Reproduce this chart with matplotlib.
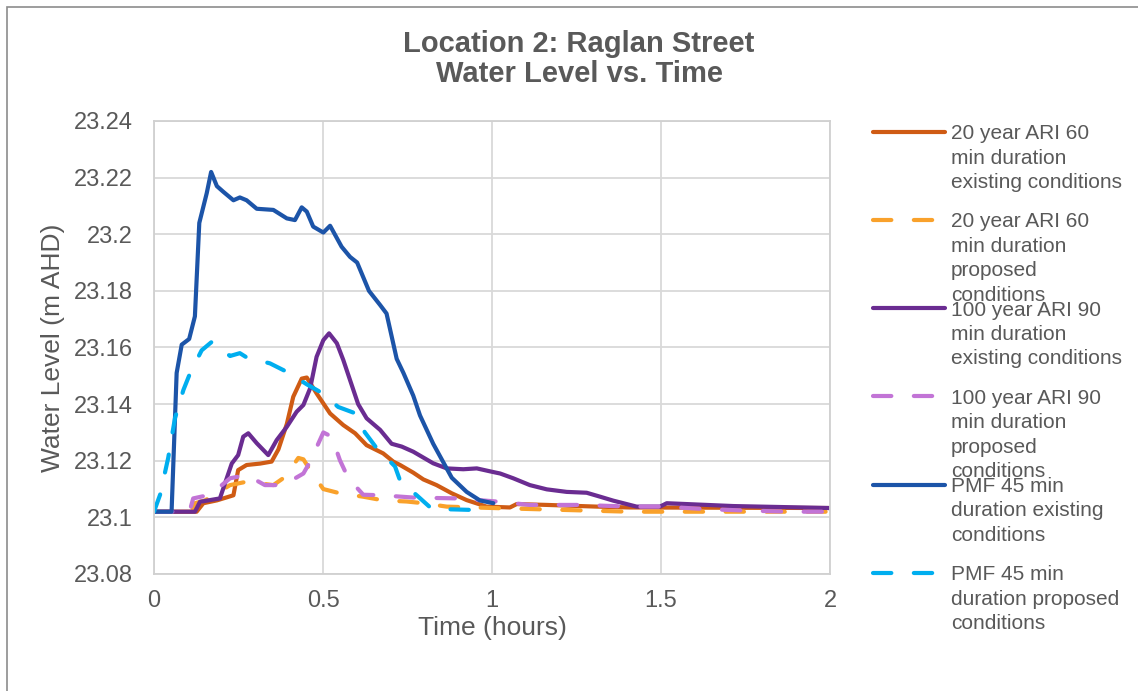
import matplotlib
matplotlib.use("Agg")
import matplotlib.pyplot as plt
from matplotlib.lines import Line2D
from matplotlib.patches import Rectangle
from matplotlib.ticker import FuncFormatter, MultipleLocator

plt.rcParams['font.family'] = ['Liberation Sans', 'DejaVu Sans']

# 20 year ARI 60 min - existing
ari20_ex_t = [0, 0.126, 0.146, 0.186, 0.235, 0.249, 0.274, 0.314, 0.348, 0.368, 0.393,
              0.412, 0.437, 0.452, 0.481, 0.521, 0.560, 0.595, 0.629, 0.678, 0.708,
              0.728, 0.767, 0.797, 0.836, 0.881, 0.925, 0.984, 1.053, 1.073, 1.162,
              1.310, 1.408, 2.0]
ari20_ex_h = [23.102, 23.102, 23.105, 23.106, 23.1078, 23.1167, 23.1185, 23.119, 23.1197,
              23.124, 23.133, 23.1426, 23.149, 23.1494, 23.1438, 23.1367, 23.1326,
              23.1297, 23.1255, 23.1226, 23.1197, 23.1185, 23.1158, 23.1134, 23.1114,
              23.1085, 23.1061, 23.1038, 23.1035, 23.1047, 23.1044, 23.1038, 23.1035,
              23.1033]

# 20 year ARI 60 min - proposed
ari20_pr_t = [0, 0.11, 0.121, 0.151, 0.225, 0.274, 0.314, 0.353, 0.388, 0.427, 0.442,
              0.471, 0.501, 0.550, 0.619, 0.678, 0.748, 0.797, 0.866, 1.004, 1.408, 2.0]
ari20_pr_h = [23.102, 23.102, 23.105, 23.106, 23.1114, 23.1126, 23.112, 23.1114, 23.1143,
              23.121, 23.1205, 23.115, 23.110, 23.1085, 23.1073, 23.106, 23.1056,
              23.105, 23.1038, 23.1033, 23.102, 23.102]

# 100 year ARI 90 min - existing
ari100_ex_t = [0, 0.121, 0.136, 0.195, 0.210, 0.230, 0.249, 0.264, 0.279, 0.304, 0.338,
               0.363, 0.393, 0.422, 0.442, 0.462, 0.481, 0.501, 0.518, 0.541, 0.560,
               0.580, 0.604, 0.629, 0.669, 0.703, 0.733, 0.767, 0.826, 0.866, 0.915,
               0.955, 1.004, 1.024, 1.063, 1.112, 1.162, 1.221, 1.280, 1.320, 1.359,
               1.428, 1.497, 1.517, 1.714, 2.0]
ari100_ex_h = [23.102, 23.102, 23.1055, 23.1067, 23.112, 23.119, 23.122, 23.1285, 23.1297,
               23.1262, 23.122, 23.1273, 23.132, 23.1373, 23.1397, 23.1456, 23.1567,
               23.1626, 23.165, 23.1615, 23.1556, 23.1485, 23.140, 23.135, 23.1309,
               23.126, 23.125, 23.1232, 23.1191, 23.1173, 23.117, 23.1173, 23.116,
               23.1155, 23.1138, 23.1114, 23.1099, 23.109, 23.1087, 23.1073, 23.1059,
               23.1038, 23.1038, 23.105, 23.104, 23.1033]

# 100 year ARI 90 min - proposed
ari100_pr_t = [0, 0.105, 0.116, 0.166, 0.225, 0.274, 0.328, 0.383, 0.442, 0.462, 0.501,
               0.526, 0.550, 0.575, 0.619, 0.674, 0.767, 0.896, 1.014, 1.112, 1.260,
               1.408, 1.506, 1.635, 1.754, 1.882, 2.0]
ari100_pr_h = [23.102, 23.102, 23.1067, 23.108, 23.1138, 23.115, 23.1114, 23.1114,
               23.1155, 23.1197, 23.130, 23.1285, 23.1202, 23.1138, 23.108, 23.1078,
               23.107, 23.1067, 23.1056, 23.1044, 23.1044, 23.1038, 23.1038, 23.1029,
               23.1024, 23.102, 23.102]

# PMF 45 min - existing
pmf_ex_t = [0, 0.052, 0.067, 0.082, 0.104, 0.121, 0.134, 0.156, 0.169, 0.186, 0.205,
            0.235, 0.254, 0.274, 0.304, 0.353, 0.393, 0.417, 0.437, 0.452, 0.471,
            0.501, 0.521, 0.555, 0.580, 0.601, 0.636, 0.669, 0.688, 0.718, 0.738,
            0.767, 0.787, 0.826, 0.881, 0.925, 0.964, 1.004]
pmf_ex_h = [23.102, 23.102, 23.151, 23.161, 23.163, 23.171, 23.204, 23.2145, 23.222,
            23.217, 23.215, 23.212, 23.213, 23.212, 23.209, 23.2086, 23.2056, 23.205,
            23.2095, 23.208, 23.2027, 23.2006, 23.203, 23.1956, 23.192, 23.190, 23.180,
            23.175, 23.172, 23.156, 23.151, 23.143, 23.136, 23.126, 23.114, 23.109,
            23.106, 23.105]

# PMF 45 min - proposed
pmf_pr_t = [0, 0.018, 0.042, 0.062, 0.087, 0.107, 0.141, 0.171, 0.225, 0.254, 0.274,
            0.343, 0.393, 0.452, 0.496, 0.545, 0.590, 0.624, 0.659, 0.713, 0.728,
            0.782, 0.822, 0.891, 0.950]
pmf_pr_h = [23.102, 23.108, 23.121, 23.135, 23.145, 23.151, 23.159, 23.162, 23.157,
            23.158, 23.1565, 23.1544, 23.1514, 23.147, 23.144, 23.139, 23.137, 23.130,
            23.1244, 23.118, 23.113, 23.1073, 23.103, 23.1028, 23.1026]

labels = [
    ["20 year ARI 60", "min duration", "existing conditions"],
    ["20 year ARI 60", "min duration", "proposed", "conditions"],
    ["100 year ARI 90", "min duration", "existing conditions"],
    ["100 year ARI 90", "min duration", "proposed", "conditions"],
    ["PMF 45 min", "duration existing", "conditions"],
    ["PMF 45 min", "duration proposed", "conditions"],
]
colors = ['#CF5B14', '#F9A12B', '#6A2C91', '#C274D6', '#1C54A8', '#00AEEF']
dashed = [False, True, False, True, False, True]
series = [(ari20_ex_t, ari20_ex_h), (ari20_pr_t, ari20_pr_h),
          (ari100_ex_t, ari100_ex_h), (ari100_pr_t, ari100_pr_h),
          (pmf_ex_t, pmf_ex_h), (pmf_pr_t, pmf_pr_h)]

W, H = 1138, 691
fig = plt.figure(figsize=(W / 100, H / 100), dpi=100)
ax = fig.add_axes([154 / W, 1 - 574 / H, (830 - 154) / W, (574 - 121) / H])

text_col = '#595959'
grid_col = '#D9D9D9'
lw = 3.0

for (t, h), c, d in zip(series, colors, dashed):
    line, = ax.plot(t, h, color=c, lw=lw, solid_capstyle='round',
                    dash_capstyle='round', solid_joinstyle='round')
    if d:
        line.set_dashes((4.4, 5.4))

ax.set_xlim(0, 2)
ax.set_ylim(23.08, 23.24)
ax.xaxis.set_major_locator(MultipleLocator(0.5))
ax.yaxis.set_major_locator(MultipleLocator(0.02))
ax.xaxis.set_major_formatter(FuncFormatter(lambda v, p: f"{v:g}"))
ax.yaxis.set_major_formatter(FuncFormatter(lambda v, p: f"{round(v, 2):g}"))
ax.grid(True, color=grid_col, lw=1.3)
ax.set_axisbelow(True)
for s in ax.spines.values():
    s.set_color('#D0D0D0')
    s.set_linewidth(1.3)
ax.tick_params(length=0, labelsize=17, labelcolor=text_col)
ax.tick_params(axis='x', pad=11.5)
ax.tick_params(axis='y', pad=15)

# axis titles and chart title
fig.text(53 / W, 1 - 348 / H, "Water Level (m AHD)", rotation=90, ha='center',
         va='center', fontsize=19, color=text_col)
fig.text(492 / W, 1 - 635 / H, "Time (hours)", ha='center', va='baseline',
         fontsize=19, color=text_col)
fig.text(579 / W, 1 - 52 / H, "Location 2: Raglan Street", ha='center', va='baseline',
         fontsize=21, fontweight='bold', color=text_col)
fig.text(579 / W, 1 - 82 / H, "Water Level vs. Time", ha='center', va='baseline',
         fontsize=21, fontweight='bold', color=text_col)

# legend, each entry anchored at its first line
for i, (lab, c, d) in enumerate(zip(labels, colors, dashed)):
    y0 = 131.7 + i * 88.2
    handle = Line2D([873 / W, 945 / W], [1 - y0 / H, 1 - y0 / H], color=c, lw=lw,
                    solid_capstyle='round', dash_capstyle='round',
                    transform=fig.transFigure)
    if d:
        handle.set_dashes((4.4, 5.4))
    fig.add_artist(handle)
    for j, txt in enumerate(lab):
        yb = y0 + j * 24.4 + 7.5
        fig.text(951 / W, 1 - yb / H, txt, ha='left', va='baseline', fontsize=15,
                 color=text_col)

# chart area border
fig.add_artist(Rectangle((7 / W, -0.05), 1.1, 1 - 7 / H + 0.05, transform=fig.transFigure,
                         fill=False, edgecolor='#8C8C8C', lw=1.2))

fig.savefig("out.png", dpi=100, facecolor='white')
